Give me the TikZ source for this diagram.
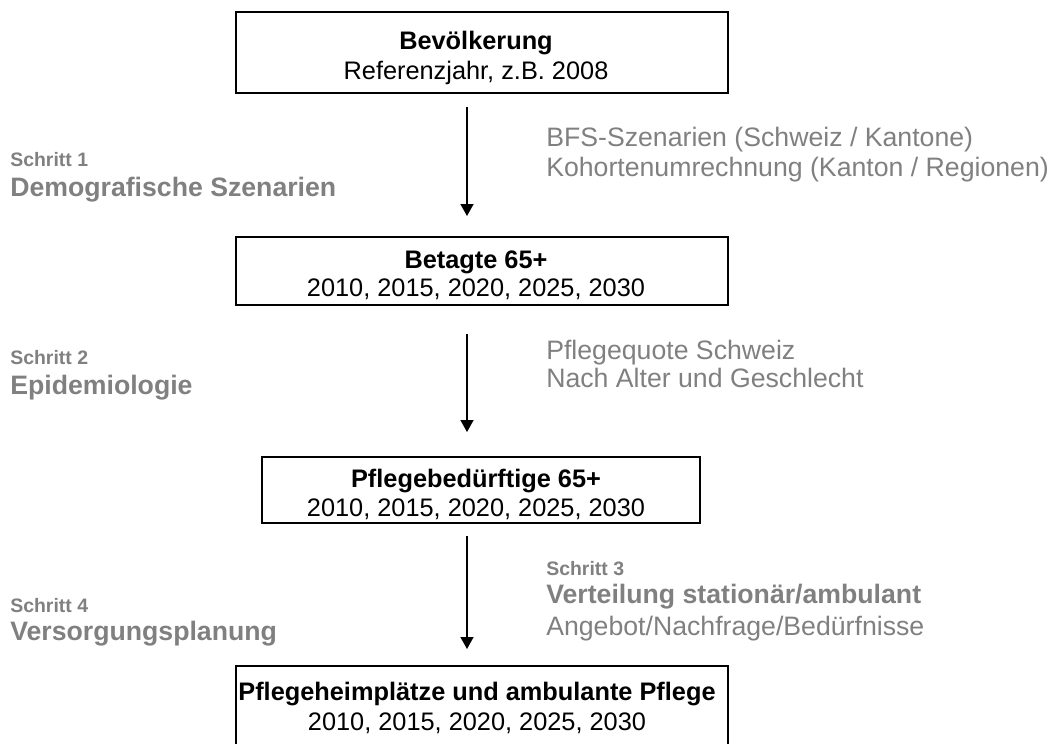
\documentclass[tikz,border=0pt]{standalone}
\usepackage{fontspec}
\setmainfont{Liberation Sans}
\usetikzlibrary{arrows.meta}
\definecolor{labelgray}{RGB}{128,128,128}
\begin{document}
\begin{tikzpicture}[x=0.75pt,y=-0.75pt,
  box/.style={draw=black, line width=1.5pt, inner sep=0pt},
  boxt/.style={font=\fontsize{19}{23}\selectfont\bfseries, inner sep=0pt, text height=13.7pt, text depth=0pt},
  boxs/.style={font=\fontsize{19}{23}\selectfont, inner sep=0pt, text height=13.7pt, text depth=0pt},
  big/.style={font=\fontsize{20}{24}\selectfont, inner sep=0pt, text height=14.4pt, text depth=0pt},
  bigb/.style={font=\fontsize{20}{24}\selectfont\bfseries, inner sep=0pt, text height=14.4pt, text depth=0pt},
  smallb/.style={font=\fontsize{14.6}{17}\selectfont\bfseries, inner sep=0pt, text height=10.5pt, text depth=0pt},
  note/.style={text=labelgray, anchor=west},
  arr/.style={draw=black, line width=1.1pt, -{Triangle[width=9.75pt,length=9pt]}}
]
\useasboundingbox (0,0) rectangle (1052,743);
\clip (0,0) rectangle (1052,743);
\coordinate (ax) at (467,0);

% boxes
\node[box, minimum width=369pt, minimum height=60.75pt] (b1) at (482,52.5) {};
\node[boxt] (b1t) at (476,40) {Bevölkerung};
\node[boxs] (b1s) at (476,70) {Referenzjahr, z.B. 2008};

\node[box, minimum width=369pt, minimum height=51pt] (b2) at (482,271) {};
\node[boxt] (b2t) at (476,259) {Betagte 65+};
\node[boxs] (b2s) at (476,287) {2010, 2015, 2020, 2025, 2030};

\node[box, minimum width=328.5pt, minimum height=49.5pt] (b3) at (481,490) {};
\node[boxt] (b3t) at (476,478) {Pflegebedürftige 65+};
\node[boxs] (b3s) at (476,507) {2010, 2015, 2020, 2025, 2030};

\node[box, minimum width=369pt, minimum height=67.5pt] (b4) at (482,711) {};
\node[boxt] (b4t) at (477,691) {Pflegeheimplätze und ambulante Pflege};
\node[boxs] (b4s) at (477,721) {2010, 2015, 2020, 2025, 2030};

% arrows
\draw[arr, shorten <=9.75pt, shorten >=15pt] (b1.south -| ax) -- (b2.north -| ax);
\draw[arr, shorten <=21pt, shorten >=18pt] (b2.south -| ax) -- (b3.north -| ax);
\draw[arr, shorten <=9pt, shorten >=12pt] (b3.south -| ax) -- (b4.north -| ax);

% right notes
\node[big, note] (r1a) at (546,137) {BFS-Szenarien (Schweiz / Kantone)};
\node[big, note] (r1b) at (546,167) {Kohortenumrechnung (Kanton / Regionen)};
\node[big, note] (r2a) at (546,350) {Pflegequote Schweiz};
\node[big, note] (r2b) at (546,378) {Nach Alter und Geschlecht};
\node[smallb, note] (r3a) at (546,568) {Schritt 3};
\node[bigb, note] (r3b) at (546,594) {Verteilung stationär/ambulant};
\node[big, note] (r3c) at (546,626) {Angebot/Nachfrage/Bedürfnisse};

% left notes
\node[smallb, note] (l1a) at (10,159) {Schritt 1};
\node[bigb, note] (l1b) at (10,187) {Demografische Szenarien};
\node[smallb, note] (l2a) at (10,357) {Schritt 2};
\node[bigb, note] (l2b) at (10,385) {Epidemiologie};
\node[smallb, note] (l4a) at (10,605) {Schritt 4};
\node[bigb, note] (l4b) at (10,631) {Versorgungsplanung};
\end{tikzpicture}
\end{document}
